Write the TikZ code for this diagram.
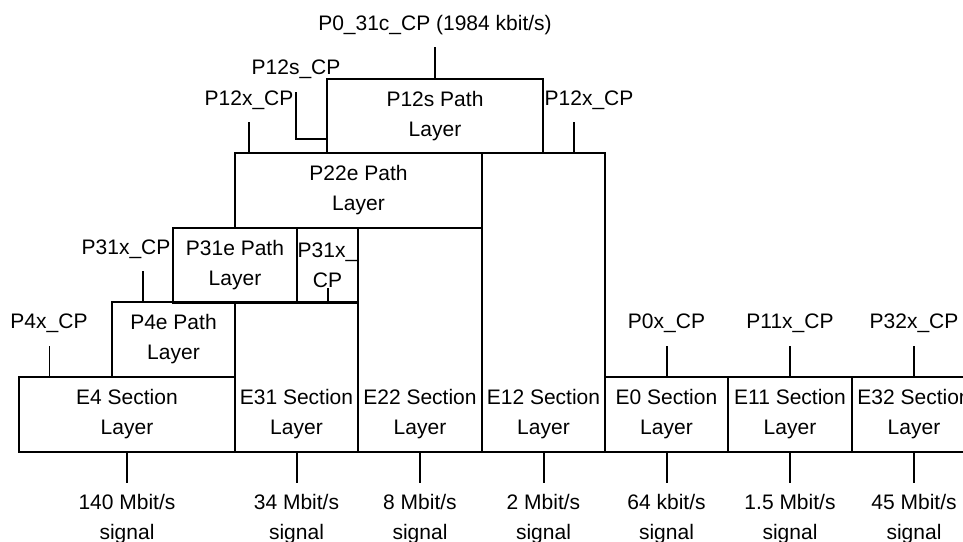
\documentclass[tikz,border=0pt]{standalone}
\usepackage{fontspec}
\setmainfont{Liberation Sans}
\usetikzlibrary{fit,positioning}
\tikzset{
	layer/.style={draw,line width=1pt,inner sep=0pt},
	txt/.style={align=center},
	wire/.style={line width=1pt},
	thinwire/.style={line width=0.5pt},
}
\begin{document}
\begin{tikzpicture}[x=0.5pt,y=-0.5pt,font=\fontsize{10.5}{15}\selectfont]
	\useasboundingbox (0,0) rectangle (963,541);
	\clip (0,0) rectangle (963,541);
	\def\yB{452};
	% path layers
	\node[layer,fit={(327,79) (543,153)}] (p12s) {};
	\node[txt] (p12s-t) at (p12s) {P12s Path\\Layer};
	\node[layer,fit={(235,153) (482,228)}] (p22e) {};
	\node[txt] (p22e-t) at (p22e) {P22e Path\\Layer};
	\node[layer,fit={(173,228) (297,303)}] (p31e) {};
	\node[txt] (p31e-t) at (p31e) {P31e Path\\Layer};
	\node[layer,fit={(297,228) (358,303)}] (p31x) {};
	\node[txt] (p31x-t) at (p31x) {P31x\_\\CP};
	\node[layer,fit={(112,302) (235,377)}] (p4e) {};
	\node[txt] (p4e-t) at (p4e) {P4e Path\\Layer};
	% section layers with their signals
	\foreach \n/\lab/\xa/\xb/\yt/\r in {e4/E4/19/235/377/140 Mbit,e31/E31/235/358/302/34 Mbit,e22/E22/358/482/228/8 Mbit,e12/E12/482/605/153/2 Mbit,e0/E0/605/728/377/64 kbit,e11/E11/728/852/377/1.5 Mbit,e32/E32/852/976/377/45 Mbit}{
		\node[layer,fit={(\xa,\yt) (\xb,\yB)}] (\n) {};
		\node[txt] (\n-t) at ({(\xa+\xb)/2},414.5) {\lab\ Section\\Layer};
		\node[txt] (\n-r) at ({(\xa+\xb)/2},519) {\r/s\\signal};
		\draw[wire] (\n.south) -- ++(0,30);
	}
	% connection points
	\node (p0c) at (435,25) {P0\_31c\_CP (1984 kbit/s)};
	\draw[wire] (p12s.north) -- ++(0,-31);
	\node (p12sc) at (296,69) {P12s\_CP};
	\draw[wire] (p12s.west |- 0,139) -| (p12sc.south |- 0,92);
	\node (p12xl) at (249,100) {P12x\_CP};
	\draw[wire] (p22e.north -| p12xl) -- ++(0,-30);
	\node (p12xr) at (589,100) {P12x\_CP};
	\draw[wire] (e12.north -| 574,0) -- ++(0,-30);
	\node (p31xc) at (126,249) {P31x\_CP};
	\draw[wire] (p4e.north -| 143,0) -- ++(0,-30);
	\draw[wire] (p31x.south) -- ++(0,-16);
	\node (p4xc) at (49,323) {P4x\_CP};
	\draw[thinwire] (e4.north -| p4xc) -- ++(0,-30);
	\foreach \n/\lab in {e0/P0x,e11/P11x,e32/P32x}{
		\node (\n-c) at (\n.north |- 0,323) {\lab\_CP};
		\draw[wire] (\n.north) -- ++(0,-30);
	}
\end{tikzpicture}
\end{document}
